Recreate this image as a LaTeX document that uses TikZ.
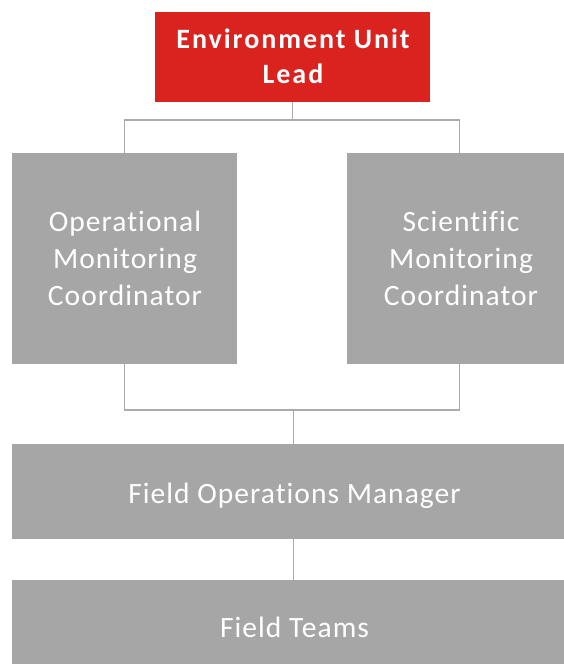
\documentclass[tikz,border=0pt]{standalone}
\usepackage{fontspec}
\setmainfont{Carlito}[Ligatures=NoCommon]
\definecolor{leadred}{HTML}{DA231F}
\definecolor{boxgray}{HTML}{A6A6A6}
\definecolor{linegray}{HTML}{ABABAB}
\begin{document}
\begin{tikzpicture}[x=1pt,y=-1pt,
  box/.style={fill=boxgray,draw=none,inner sep=0pt,outer sep=0pt},
  lbl/.style={anchor=base,inner sep=0pt,text=white,font=\addfontfeatures{LetterSpace=3.5}\fontsize{29.5}{37}\selectfont},
  leadlbl/.style={lbl,font=\bfseries\addfontfeatures{LetterSpace=7}\fontsize{28}{35}\selectfont},
  conn/.style={draw=linegray,line width=1.6pt}]
\useasboundingbox (0,0) rectangle (564,664);
\clip (0,0) rectangle (564,664);
% boxes
\node[box,fill=leadred,minimum width=275pt,minimum height=90pt] (lead) at (292.5,57) {};
\node[box,minimum width=225pt,minimum height=211pt] (op) at (124.5,258.5) {};
\node[box,minimum width=225pt,minimum height=211pt] (sci) at (459.5,258.5) {};
\node[box,minimum width=560pt,minimum height=95pt] (fom) at (292,491.5) {};
\node[box,minimum width=560pt,minimum height=84pt] (ft) at (292,622) {};
% texts
\node[leadlbl] (lead1) at (293,48) {Environment Unit};
\node[leadlbl] (lead2) at (293,83.5) {Lead};
\node[lbl] (op1) at (125,231.5) {Operational};
\node[lbl] (op2) at (125,268.5) {Monitoring};
\node[lbl] (op3) at (125,305.5) {Coordinator};
\node[lbl] (sci1) at (461,231.5) {Scientific};
\node[lbl] (sci2) at (461,268.5) {Monitoring};
\node[lbl] (sci3) at (461,305.5) {Coordinator};
\node[lbl] (fom1) at (294.5,503) {Field Operations Manager};
\node[lbl] (ft1) at (294.5,637) {Field Teams};
% connectors
\coordinate (a) at (292.5,120);
\coordinate (b) at (293.5,410);
\draw[conn] (lead.south) -- (a);
\draw[conn] (op.north) |- (a) -| (sci.north);
\draw[conn] (op.south) |- (b) -| (sci.south);
\draw[conn] (b) -- (fom.north -| b);
\draw[conn] (fom.south -| b) -- (ft.north -| b);
\end{tikzpicture}
\end{document}
